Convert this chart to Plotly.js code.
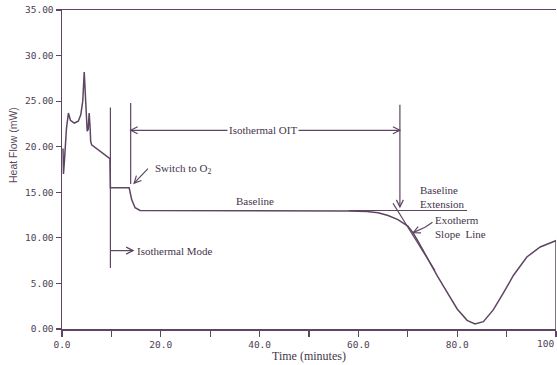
<!DOCTYPE html>
<html>
<head>
<meta charset="utf-8">
<script src="https://cdn.plot.ly/plotly-3.0.1.min.js"></script>
<style>html,body{margin:0;padding:0;background:#fff;overflow:hidden;}#chart{width:557px;height:365px;}</style>
</head>
<body>
<div id="chart"></div>
<script>
// ---- data ----
const timeMin = [0.2, 0.3, 0.5, 0.9, 1.3, 1.7, 2.5, 3.3, 3.8, 4.2, 4.5, 4.8, 5.1, 5.3, 5.5, 5.7, 5.8, 6.0,
  9.7, 9.8, 13.6, 14.1, 14.8, 15.8, 30, 45, 58, 61.7, 64, 66, 68, 70, 71, 72, 73, 74, 75, 76, 78, 80, 82,
  83.6, 85.3, 87.3, 89.3, 91.4, 94.1, 96.8, 100, 100];
const heatFlow = [19.8, 17.0, 18.5, 22.0, 23.7, 22.9, 22.6, 22.8, 23.5, 25.0, 28.2, 25.0, 21.7, 21.9, 23.7, 22.0, 20.6, 20.2,
  18.7, 15.5, 15.5, 14.2, 13.3, 13.0, 13.0, 13.0, 12.95, 12.9, 12.75, 12.45, 12.0, 11.3, 10.6, 9.7, 8.7, 7.7, 6.75, 5.8, 4.0, 2.2, 0.95,
  0.55, 0.8, 2.1, 3.9, 5.9, 7.9, 9.0, 9.7, 0];
const xTickVals = [0, 20, 40, 60, 80, 100];
const xTickText = ['0.0', '20.0', '40.0', '60.0', '80.0', '100'];
const yTickVals = [0, 5, 10, 15, 20, 25, 30, 35];
const yTickText = ['0.00', '5.00', '10.00', '15.00', '20.00', '25.00', '30.00', '35.00'];

// marker positions (minutes / mW)
const isoModeTime = 9.8;
const switchTime = 13.9;
const oitEndTime = 68.4;
const baselineLevel = 13.0;

const LINE = '#5e4563';
const TEXT = '#45354a';
const SERIF = 'Liberation Serif, Times New Roman, serif';

function seg(x0, y0, x1, y1) {
  return {type: 'line', xref: 'x', yref: 'y', x0: x0, y0: y0, x1: x1, y1: y1,
    line: {color: LINE, width: 1.2}};
}
function head(x, y, dx, dy) { // dx,dy direction in screen px, up positive
  const n = Math.hypot(dx, dy); dx /= n; dy /= n;
  const L = 7, W = 3.5;
  const px = -dy, py = dx;
  const a = [-L * dx + W * px, -L * dy + W * py];
  const b = [-L * dx - W * px, -L * dy - W * py];
  return {type: 'path', xref: 'x', yref: 'y', xsizemode: 'pixel', ysizemode: 'pixel',
    xanchor: x, yanchor: y,
    path: `M${a[0].toFixed(2)},${a[1].toFixed(2)} L0,0 L${b[0].toFixed(2)},${b[1].toFixed(2)}`,
    line: {color: LINE, width: 1.2}};
}

const shapes = [
  seg(isoModeTime, 6.7, isoModeTime, 24.3),
  seg(switchTime, 15.9, switchTime, 24.8),
  seg(oitEndTime, 13.4, oitEndTime, 24.6),
  head(oitEndTime, 13.4, 0, -1),
  // Isothermal OIT double arrow
  seg(switchTime, 21.8, oitEndTime, 21.8),
  head(switchTime, 21.8, -1, 0),
  head(oitEndTime, 21.8, 1, 0),
  // Isothermal mode arrow
  seg(isoModeTime, 8.6, 14.4, 8.6),
  head(14.4, 8.6, 1, 0),
  // Switch to O2 arrow
  seg(17.4, 17.6, 14.6, 16.0),
  head(14.6, 16.0, -2.8 * 4.94, -1.6 * 9.11),
  // baseline extension
  seg(58, baselineLevel, 82, baselineLevel),
  // exotherm slope line
  seg(67.0, 13.8, 75.5, 6.4),
  // exotherm pointer
  seg(75.0, 11.7, 73.5, 11.16),
  seg(73.5, 11.16, 71.1, 10.57),
  head(71.1, 10.57, -2.4 * 4.94, -0.59 * 9.11)
];

function note(text, x, y, xanchor, extra) {
  return Object.assign({text: text, x: x, y: y, xref: 'x', yref: 'y', xanchor: xanchor, yanchor: 'middle',
    showarrow: false, font: {family: SERIF, size: 11, color: TEXT}}, extra || {});
}

const tickFont = {family: 'DejaVu Sans Mono, monospace', size: 9.5, color: '#4e3e52'};
const lastTick = xTickVals.length - 1;
// the last x label sits at the right edge of the picture: drawn right-aligned so it stays whole
const shownTickText = xTickText.map((t, i) => (i === lastTick ? '' : t));

const annotations = [
  note('Isothermal OIT', 40.7, 21.8, 'center', {bgcolor: '#ffffff', borderpad: 1}),
  note('Switch to O<sub>2</sub>', 18.4, 17.6, 'left'),
  note('Baseline', 39.0, 14.0, 'center'),
  note('Isothermal Mode', 14.8, 8.6, 'left'),
  note('Baseline<br>Extension', 72.1, 14.5, 'left', {align: 'left'}),
  note('Exotherm<br>Slope  Line', 75.1, 11.15, 'left', {align: 'left'}),
  {text: xTickText[lastTick], xref: 'x', yref: 'paper', x: xTickVals[lastTick], y: 0, yshift: -14,
    xanchor: 'right', yanchor: 'middle', showarrow: false, font: tickFont},
  {text: 'Heat Flow (mW)', xref: 'paper', yref: 'paper', x: -0.099, y: 0.577, textangle: -90,
    showarrow: false, xanchor: 'center', yanchor: 'middle',
    font: {family: 'Liberation Sans, Arial, sans-serif', size: 10.5, color: '#5a4a5e'}}
];

const trace = {
  x: timeMin, y: heatFlow, type: 'scatter', mode: 'lines',
  line: {color: LINE, width: 1.5}, hoverinfo: 'skip', showlegend: false
};

const layout = {
  width: 557, height: 365,
  margin: {l: 62, r: 1, t: 10, b: 36},
  paper_bgcolor: '#ffffff', plot_bgcolor: '#ffffff',
  showlegend: false,
  xaxis: {
    range: [0, 100], showgrid: false, zeroline: false,
    showline: true, linecolor: LINE, linewidth: 1.5, mirror: true,
    ticks: 'outside', ticklen: 6, tickwidth: 1.2, tickcolor: LINE,
    tickmode: 'array', tickvals: xTickVals, ticktext: shownTickText, tickfont: tickFont,
    minor: {dtick: 10, tick0: 0, ticks: 'outside', ticklen: 6, tickwidth: 1.2, tickcolor: LINE, showgrid: false},
    title: {text: 'Time (minutes)', font: {family: SERIF, size: 12, color: TEXT}, standoff: 2},
    automargin: false
  },
  yaxis: {
    range: [0, 35], showgrid: false, zeroline: false,
    showline: true, linecolor: LINE, linewidth: 1.5,
    ticks: 'outside', ticklen: 5, tickwidth: 1.2, tickcolor: LINE,
    tickmode: 'array', tickvals: yTickVals, ticktext: yTickText, tickfont: tickFont,
    automargin: false
  },
  shapes: shapes,
  annotations: annotations
};

Plotly.newPlot('chart', [trace], layout, {staticPlot: true, displayModeBar: false});
</script>
</body>
</html>
